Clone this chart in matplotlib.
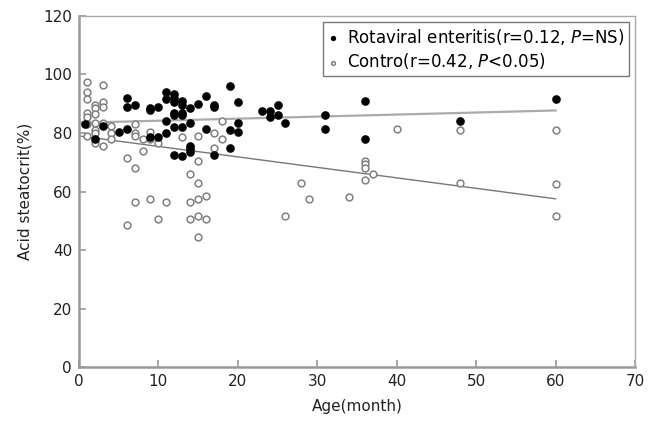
import matplotlib
matplotlib.use("Agg")
import matplotlib.pyplot as plt

plt.rcParams['font.family'] = ['DejaVu Sans']

# Rotaviral enteritis group (age in months, acid steatocrit %)
rota_age = [0.8, 2, 3, 5, 6, 6, 6, 7, 9, 9, 9, 10, 10, 11, 11, 11, 11,
            12, 12, 12, 12, 12, 12, 12, 13, 13, 13, 13, 13, 13,
            14, 14, 14, 14, 14, 15, 16, 16, 17, 17, 17, 19, 19, 19,
            20, 20, 20, 23, 24, 24, 25, 25, 26, 31, 31, 36, 36, 48, 60]
rota_val = [83, 78, 82.5, 80.5, 81.5, 92, 89, 89.5, 88, 88.5, 78.5, 89, 78.5, 94, 91.5, 84, 80,
            93.5, 92, 90.5, 87, 86, 82, 72.5, 91, 89.5, 87, 86, 82, 72,
            88.5, 83.5, 75.5, 74.5, 73.5, 90, 92.5, 81.5, 89.5, 89, 72.5, 96, 81, 75,
            90.5, 83.5, 80.5, 87.5, 87.5, 85.5, 89.5, 86, 83.5, 86, 81.5, 91, 78, 84, 91.5]

# Control group
ctrl_age = [1, 1, 1, 1, 1, 1, 1, 2, 2, 2, 2, 2, 2, 2, 3, 3, 3, 3, 3, 4, 4, 4,
            6, 6, 7, 7, 7, 7, 7, 8, 8, 9, 9, 9, 10, 10, 11, 13, 14, 14, 14,
            15, 15, 15, 15, 15, 15, 16, 16, 17, 17, 18, 18, 26, 28, 29, 34,
            36, 36, 36, 36, 37, 40, 48, 48, 60, 60, 60]
ctrl_val = [97.5, 94, 91.5, 87, 85.5, 83, 79, 89.5, 88.5, 86.5, 83.5, 81, 80, 76.5,
            96.5, 90.5, 89, 83.5, 75.5, 82.5, 80, 78,
            71.5, 48.5, 83, 80, 79, 68, 56.5, 78, 74, 80.5, 78, 57.5, 76.5, 50.5, 56.5,
            78.5, 66, 56.5, 50.5, 79, 70.5, 63, 57.5, 51.5, 44.5, 58.5, 50.5, 80, 75,
            84, 78, 51.5, 63, 57.5, 58, 70.5, 69.5, 68, 64, 66, 81.5, 81, 63, 81, 62.5, 51.5]

# Regression lines
fit_age = [0, 60]
rota_fit = [83.5, 87.7]
ctrl_fit = [79.0, 57.5]

rota_label = "Rotaviral enteritis(r=0.12, $P$=NS)"
ctrl_label = "Contro(r=0.42, $P$<0.05)"

x_ticks = [0, 10, 20, 30, 40, 50, 60, 70]
y_ticks = [0, 20, 40, 60, 80, 100, 120]

fig = plt.figure(figsize=(6.57, 4.30), dpi=100)
ax = fig.add_axes([0.1202, 0.1465, 0.8463, 0.8163])

ax.plot(fit_age, rota_fit, color='#aaaaaa', lw=1.6, zorder=1)
ax.plot(fit_age, ctrl_fit, color='#777777', lw=1.0, zorder=1)

ax.scatter(ctrl_age, ctrl_val, s=24, facecolors='white', edgecolors='#808080',
           linewidths=1.1, label=ctrl_label, zorder=2)
ax.scatter(rota_age, rota_val, s=27, color='black', label=rota_label, zorder=3)

ax.set_xlim(0, 70)
ax.set_ylim(0, 120)
ax.set_xticks(x_ticks)
ax.set_yticks(y_ticks)
ax.tick_params(direction='in', length=5, width=1.2, color='#999999',
               labelsize=11, labelcolor='#222222', pad=5)

for side in ['left', 'bottom']:
    ax.spines[side].set_color('#999999')
    ax.spines[side].set_linewidth(1.8)
for side in ['top', 'right']:
    ax.spines[side].set_color('#aaaaaa')
    ax.spines[side].set_linewidth(1.0)

ax.set_xlabel('Age(month)', fontsize=11, color='#222222', labelpad=7)
ax.set_ylabel('Acid steatocrit(%)', fontsize=11, color='#222222', labelpad=8)

handles, labels = ax.get_legend_handles_labels()
leg = ax.legend(handles[::-1], labels[::-1], loc='upper right', fontsize=12,
                frameon=True, fancybox=False, borderaxespad=0.35,
                handlelength=0.6, handletextpad=0.5, borderpad=0.3,
                labelspacing=0.25, markerscale=0.55)
leg.get_frame().set_edgecolor('#555555')
leg.get_frame().set_linewidth(1.0)

fig.savefig('out.png', dpi=100)
